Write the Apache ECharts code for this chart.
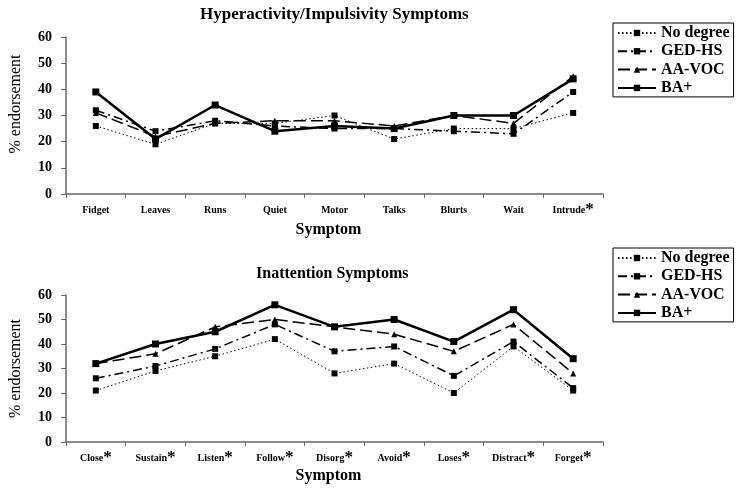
<!DOCTYPE html>
<html>
<head>
<meta charset="utf-8">
<script src="https://cdn.jsdelivr.net/npm/echarts@6/dist/echarts.min.js"></script>
<style>html,body{margin:0;padding:0;background:#fff}#c{width:744px;height:488px}</style>
</head>
<body>
<div id="c"></div>
<script>
var hyperCats = ['Fidget','Leaves','Runs','Quiet','Motor','Talks','Blurts','Wait','Intrude*'];
var hyperNoDegree = [26,19,27,27,30,21,25,25,31];
var hyperGED = [32,24,28,26,25,25,24,23,39];
var hyperAA = [31,22,27,28,28,26,30,27,45];
var hyperBA = [39,21,34,24,26,25,30,30,44];

var inattCats = ['Close*','Sustain*','Listen*','Follow*','Disorg*','Avoid*','Loses*','Distract*','Forget*'];
var inattNoDegree = [21,29,35,42,28,32,20,39,21];
var inattGED = [26,31,38,48,37,39,27,41,22];
var inattAA = [32,36,47,50,47,44,37,48,28];
var inattBA = [32,40,45,56,47,50,41,54,34];

var yTicks = [0,10,20,30,40,50,60];
var seriesNames = ['No degree','GED-HS','AA-VOC','BA+'];

var SERIF = '"Liberation Serif","DejaVu Serif",serif';

var styles = [
  {lineStyle:{type:[1.5,2.5],width:1,color:'#000'}, symbol:'rect', symbolSize:6},
  {lineStyle:{type:[9,4,2,4],width:1.5,color:'#000'}, symbol:'rect', symbolSize:6},
  {lineStyle:{type:[12,5],width:1.5,color:'#000'}, symbol:'triangle', symbolSize:6},
  {lineStyle:{type:'solid',width:2.5,color:'#000'}, symbol:'rect', symbolSize:7}
];

function catLabel(v){
  if (v.indexOf('*') >= 0) return '{n|' + v.replace('*','') + '}{s|*}';
  return '{n|' + v + '}';
}

function xAxis(idx, cats, gap){
  return {
    type:'category', gridIndex:idx, data:cats,
    name:'Symptom', nameLocation:'middle', nameGap:gap,
    nameTextStyle:{fontFamily:SERIF, fontWeight:'bold', fontSize:16, color:'#000', padding:[0,12,0,0]},
    axisLine:{lineStyle:{color:'#666', width:1.5}},
    axisTick:{show:true, length:4, lineStyle:{color:'#666'}},
    axisLabel:{formatter:catLabel, margin:10, interval:0,
      rich:{
        n:{fontFamily:SERIF, fontWeight:'bold', fontSize:10, color:'#000', lineHeight:12},
        s:{fontFamily:SERIF, fontWeight:'bold', fontSize:17, color:'#000', lineHeight:12}
      }
    }
  };
}

function yAxis(idx, shift){
  return {
    type:'value', gridIndex:idx, min:yTicks[0], max:yTicks[yTicks.length-1], interval:10,
    name:'% endorsement', nameLocation:'middle', nameGap:42,
    nameTextStyle:{fontFamily:SERIF, fontSize:16, color:'#000', padding:[0,0,0,shift]},
    axisLine:{show:true, lineStyle:{color:'#666', width:1.5}},
    axisTick:{show:true, length:5, lineStyle:{color:'#666'}},
    splitLine:{show:false},
    axisLabel:{fontFamily:SERIF, fontWeight:'bold', fontSize:14, color:'#000', margin:14}
  };
}

function mkSeries(idx, arrs){
  return arrs.map(function(d,i){
    return {
      type:'line', name:seriesNames[i], xAxisIndex:idx, yAxisIndex:idx, data:d,
      symbol:styles[i].symbol, symbolSize:styles[i].symbolSize,
      lineStyle:styles[i].lineStyle, itemStyle:{color:'#000'},
      showAllSymbol:true, animation:false, z:10+i
    };
  });
}

function legend(top){
  return {
    orient:'vertical', left:613, top:top, data:seriesNames,
    backgroundColor:'#fff',
    borderColor:'#000', borderWidth:1, padding:[2,4,1,4],
    itemWidth:38, itemHeight:8, itemGap:2.3,
    selectedMode:false,
    textStyle:{fontFamily:SERIF, fontWeight:'bold', fontSize:16, lineHeight:16, color:'#000'}
  };
}

var chart = echarts.init(document.getElementById('c'), null, {renderer:'canvas'});
chart.setOption({
  backgroundColor:'#fff',
  animation:false,
  title:[
    {text:'Hyperactivity/Impulsivity Symptoms', left:195, top:1,
     textStyle:{fontFamily:SERIF, fontWeight:'bold', fontSize:17, color:'#000'}},
    {text:'Inattention Symptoms', left:251, top:261,
     textStyle:{fontFamily:SERIF, fontWeight:'bold', fontSize:16, color:'#000'}}
  ],
  legend:[legend(23), legend(248)],
  grid:[
    {left:63, top:37, width:540, height:157},
    {left:63, top:295, width:540, height:147}
  ],
  xAxis:[xAxis(0, hyperCats, 28), xAxis(1, inattCats, 26)],
  yAxis:[yAxis(0, 23), yAxis(1, 0)],
  series: mkSeries(0,[hyperNoDegree,hyperGED,hyperAA,hyperBA]).concat(
          mkSeries(1,[inattNoDegree,inattGED,inattAA,inattBA]))
});
</script>
</body>
</html>
